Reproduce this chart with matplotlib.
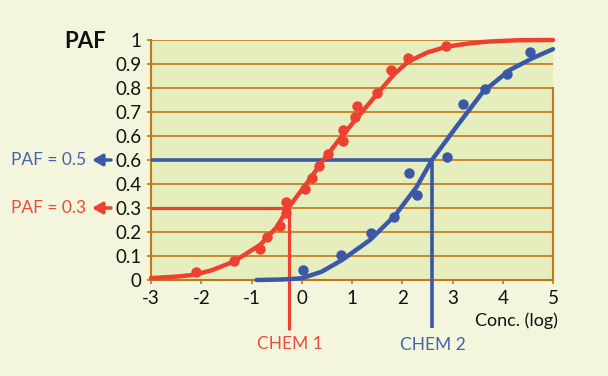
import matplotlib
matplotlib.use("Agg")
import matplotlib.pyplot as plt

plt.rcParams['font.family'] = ['Lato', 'DejaVu Sans']

# ---- data ----
red_pts_x = [-2.10, -1.35, -0.83, -0.70, -0.43, -0.31, -0.31, 0.07, 0.20, 0.34, 0.53, 0.83, 0.83, 1.05, 1.10, 1.49, 1.77, 2.12, 2.88]
red_pts_y = [0.032, 0.079, 0.129, 0.178, 0.225, 0.278, 0.326, 0.378, 0.426, 0.477, 0.525, 0.579, 0.625, 0.678, 0.725, 0.780, 0.875, 0.924, 0.976]

blue_pts_x = [0.03, 0.78, 1.37, 1.84, 2.14, 2.29, 2.90, 3.20, 3.65, 4.08, 4.54]
blue_pts_y = [0.042, 0.103, 0.195, 0.261, 0.447, 0.354, 0.514, 0.733, 0.795, 0.858, 0.951]

red_curve_x = [-3.0, -2.5, -2.16, -1.8, -1.36, -0.83, -0.5, -0.27, 0.10, 0.43, 0.79, 1.23, 1.56, 1.85, 2.12, 2.5, 2.88, 3.3, 3.68, 4.3, 5.0]
red_curve_y = [0.008, 0.014, 0.021, 0.040, 0.076, 0.146, 0.220, 0.300, 0.403, 0.500, 0.597, 0.708, 0.790, 0.860, 0.910, 0.948, 0.972, 0.985, 0.993, 0.999, 1.0]

blue_curve_x = [-0.9, -0.4, 0.0, 0.4, 0.8, 1.36, 1.86, 2.29, 2.59, 3.08, 3.61, 4.14, 4.6, 5.0]
blue_curve_y = [0.0, 0.002, 0.007, 0.035, 0.083, 0.167, 0.270, 0.389, 0.500, 0.639, 0.785, 0.875, 0.925, 0.962]

x_ticks = [-3, -2, -1, 0, 1, 2, 3, 4, 5]
y_ticks = [0, 0.1, 0.2, 0.3, 0.4, 0.5, 0.6, 0.7, 0.8, 0.9, 1.0]
y_tick_labels = ['0', '0.1', '0.2', '0.3', '0.4', '0.6', '0.6', '0.7', '0.8', '0.9', '1']

chem1_x, chem1_paf = -0.26, 0.3
chem2_x, chem2_paf = 2.59, 0.5

# ---- style ----
RED = '#EE4030'
BLUE = '#3A57A8'
RED_TXT = '#EE4B3C'
BLUE_TXT = '#4562AC'
GRID = '#C07818'
FIG_BG = '#F3F6DC'
AX_BG = '#E6EEBE'

fig = plt.figure(figsize=(6.08, 3.76), dpi=100, facecolor=FIG_BG)
W, H = 608, 376
ax = fig.add_axes([151 / W, 1 - 280 / H, (553 - 151) / W, (280 - 40) / H])
ax.set_facecolor(AX_BG)
ax.set_xlim(-3, 5)
ax.set_ylim(0, 1)

for y in y_ticks[1:]:
    ax.axhline(y, color=GRID, lw=1.2, zorder=1)

ax.spines['top'].set_visible(False)
for s in ['left', 'bottom', 'right']:
    ax.spines[s].set_color(GRID)
    ax.spines[s].set_linewidth(1.5)
ax.spines['right'].set_bounds(0, 0.8)

ax.set_xticks(x_ticks)
ax.set_xticklabels([str(v) for v in x_ticks], fontsize=13.5)
ax.set_yticks(y_ticks)
ax.set_yticklabels(y_tick_labels, fontsize=13.5)
ax.tick_params(axis='both', colors=GRID, length=3, width=1.2, labelcolor='#111111')
ax.tick_params(axis='x', pad=4)
ax.tick_params(axis='y', pad=4)

# reference lines
ax.plot([-3, chem1_x], [chem1_paf, chem1_paf], color=RED, lw=2.3, zorder=3, solid_capstyle='butt')
ax.plot([chem1_x, chem1_x], [chem1_paf, -0.208], color=RED, lw=2.3, zorder=3, clip_on=False, solid_capstyle='butt')
ax.plot([-3, chem2_x], [chem2_paf, chem2_paf], color=BLUE, lw=2.6, zorder=3, solid_capstyle='butt')
ax.plot([chem2_x, chem2_x], [chem2_paf, -0.20], color=BLUE, lw=2.6, zorder=3, clip_on=False, solid_capstyle='butt')

# curves
ax.plot(red_curve_x, red_curve_y, color=RED, lw=3.2, zorder=4, clip_on=False, solid_capstyle='round', solid_joinstyle='round')
ax.plot(blue_curve_x, blue_curve_y, color=BLUE, lw=3.2, zorder=4, clip_on=False, solid_capstyle='round', solid_joinstyle='round')

# points
ax.plot(red_pts_x, red_pts_y, 'o', color=RED, ms=6.5, zorder=5, clip_on=False)
ax.plot(blue_pts_x, blue_pts_y, 'o', color=BLUE, ms=6.5, zorder=5, clip_on=False)

# texts
fig.text(85 / W, 1 - 42 / H, 'PAF', fontsize=16, fontweight='bold', ha='center', va='center', color='#111111')
fig.text(558 / W, 1 - 321 / H, 'Conc. (log)', fontsize=13, ha='right', va='center', color='#111111')
fig.text(290 / W, 1 - 344 / H, 'CHEM 1', fontsize=12.5, ha='center', va='center', color=RED_TXT)
fig.text(433 / W, 1 - 345 / H, 'CHEM 2', fontsize=12.5, ha='center', va='center', color=BLUE_TXT)
fig.text(86 / W, 1 - 160 / H, 'PAF = 0.5', fontsize=12.5, ha='right', va='center', color=BLUE_TXT)
fig.text(86 / W, 1 - 208 / H, 'PAF = 0.3', fontsize=12.5, ha='right', va='center', color=RED_TXT)

for yy, col in [(160, BLUE), (208, RED)]:
    fig.patches.append(matplotlib.patches.FancyArrowPatch(
        (111 / W, 1 - yy / H), (92 / W, 1 - yy / H), transform=fig.transFigure,
        arrowstyle='-|>,head_length=0.3,head_width=0.17', mutation_scale=20,
        shrinkA=0, shrinkB=0, color=col, lw=2.5))

fig.savefig('out.png', dpi=100, facecolor=FIG_BG)
